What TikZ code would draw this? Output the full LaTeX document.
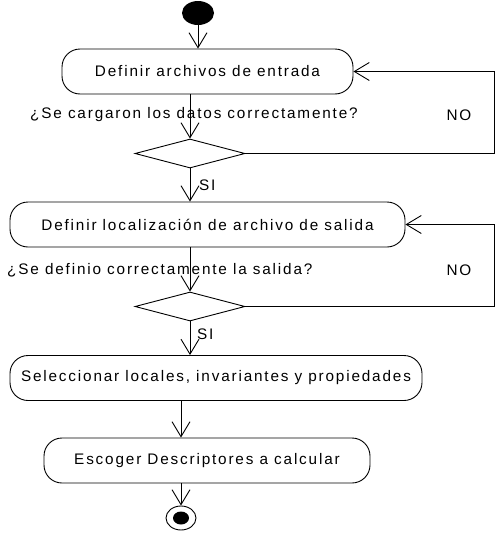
\documentclass[tikz,border=0pt]{standalone}
\usepackage{fontspec}
\setmainfont{Liberation Sans}
\newfontfamily\diafont[LetterSpace=12]{Liberation Sans}
\usetikzlibrary{arrows.meta,shapes.geometric}

\tikzset{
  actividad/.style={draw, line width=0.9pt, rounded corners=18pt, minimum height=45pt, inner sep=0pt},
  decision/.style={draw, diamond, line width=0.9pt, minimum width=110pt, minimum height=29pt, inner sep=0pt},
  flecha/.style={line width=0.9pt, -{Straight Barb[length=15pt,width=18pt,line width=0.9pt]}},
  etiqueta/.style={inner sep=0pt}
}

\begin{document}
\begin{tikzpicture}[x=1pt, y=-1pt, font=\diafont\fontsize{15.3}{18}\selectfont]
  \useasboundingbox (0,0) rectangle (499,541);
  % Start and end
  \node[ellipse, fill=black, minimum width=32pt, minimum height=24pt, inner sep=0pt] (inicio) at (198,13) {};
  \node[ellipse, draw, line width=0.9pt, minimum width=30pt, minimum height=24pt, inner sep=0pt] (fin) at (181,518) {};
  \node[ellipse, fill=black, minimum width=16pt, minimum height=13pt, inner sep=0pt] (finint) at (181,518) {};
  % Activities
  \node[actividad, minimum width=291pt] (a1) at (207.5,71.5) {Definir archivos de entrada};
  \node[actividad, minimum width=395pt] (a2) at (207.5,224.5) {Definir localización de archivo de salida};
  \node[actividad, minimum width=412pt] (a3) at (216,378) {Seleccionar locales, invariantes y propiedades};
  \node[actividad, minimum width=326pt] (a4) at (207,460.5) {Escoger Descriptores a calcular};
  % Decisions
  \node[decision] (d1) at (190,153.5) {};
  \node[decision] (d2) at (190,306.5) {};
  % Guards
  \node[etiqueta, anchor=west] (q1) at (30,115) {¿Se cargaron los datos correctamente?};
  \node[etiqueta] (no1) at (459,115) {NO};
  \node[etiqueta, anchor=west] (si1) at (199,185) {SI};
  \node[etiqueta, anchor=west] (q2) at (7,270) {¿Se definio correctamente la salida?};
  \node[etiqueta] (no2) at (459,270) {NO};
  \node[etiqueta, anchor=west] (si2) at (197,334) {SI};
  % Flow
  \draw[flecha] (inicio.south) -- (inicio.south |- a1.north);
  \draw[flecha] (a1.south -| d1) -- (d1.north);
  \draw[flecha] (d1.south) -- (d1.south |- a2.north);
  \draw[flecha] (a2.south -| d2) -- (d2.north);
  \draw[flecha] (d2.south) -- (d2.south |- a3.north);
  \draw[flecha] (a3.south -| fin) -- (a4.north -| fin);
  \draw[flecha] (a4.south -| fin) -- (fin.north);
  % Loops back
  \draw[flecha] (d1.east) -- (494,153.5) |- (a1.east);
  \draw[flecha] (d2.east) -- (494,306.5) |- (a2.east);
\end{tikzpicture}
\end{document}
